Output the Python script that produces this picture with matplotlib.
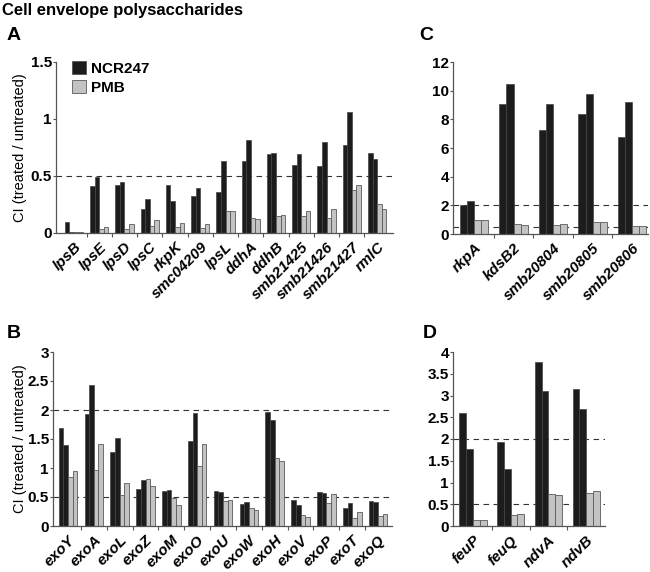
import numpy as np
import matplotlib
matplotlib.use("Agg")
import matplotlib.pyplot as plt

plt.rcParams['font.family'] = ['Liberation Sans', 'DejaVu Sans']

# panel A
genes_a = ["lpsB", "lpsE", "lpsD", "lpsC", "rkpK", "smc04209", "lpsL", "ddhA",
           "ddhB", "smb21425", "smb21426", "smb21427", "rmlC"]
ncr_a1 = [0.10, 0.415, 0.42, 0.21, 0.425, 0.325, 0.36, 0.63, 0.69, 0.60, 0.585, 0.77, 0.70]
ncr_a2 = [0.005, 0.495, 0.45, 0.295, 0.28, 0.395, 0.63, 0.815, 0.70, 0.695, 0.795, 1.06, 0.645]
pmb_a1 = [0.008, 0.035, 0.035, 0.065, 0.055, 0.045, 0.19, 0.13, 0.145, 0.145, 0.135, 0.38, 0.25]
pmb_a2 = [0.008, 0.055, 0.075, 0.11, 0.09, 0.08, 0.195, 0.125, 0.16, 0.19, 0.21, 0.425, 0.21]

# panel B
genes_b = ["exoY", "exoA", "exoL", "exoZ", "exoM", "exoO", "exoU", "exoW",
           "exoH", "exoV", "exoP", "exoT", "exoQ"]
ncr_b1 = [1.69, 1.93, 1.27, 0.64, 0.61, 1.46, 0.60, 0.385, 1.97, 0.44, 0.59, 0.31, 0.425]
ncr_b2 = [1.40, 2.43, 1.51, 0.80, 0.62, 1.94, 0.59, 0.42, 1.82, 0.36, 0.57, 0.39, 0.42]
pmb_b1 = [0.85, 0.97, 0.54, 0.81, 0.49, 1.04, 0.425, 0.315, 1.17, 0.185, 0.39, 0.14, 0.17]
pmb_b2 = [0.95, 1.41, 0.745, 0.69, 0.365, 1.41, 0.445, 0.275, 1.12, 0.16, 0.545, 0.24, 0.21]

# panel C
genes_c = ["rkpA", "kdsB2", "smb20804", "smb20805", "smb20806"]
ncr_c1 = [2.05, 9.1, 7.28, 8.4, 6.77]
ncr_c2 = [2.28, 10.5, 9.07, 9.77, 9.19]
pmb_c1 = [1.0, 0.70, 0.65, 0.84, 0.56]
pmb_c2 = [1.0, 0.65, 0.72, 0.84, 0.58]

# panel D
genes_d = ["feuP", "feuQ", "ndvA", "ndvB"]
ncr_d1 = [2.59, 1.92, 3.77, 3.14]
ncr_d2 = [1.78, 1.30, 3.11, 2.68]
pmb_d1 = [0.14, 0.25, 0.73, 0.77]
pmb_d2 = [0.14, 0.28, 0.72, 0.80]

BLACK = "#1c1c1c"
GRAY = "#c3c3c3"
W = 0.18

fig = plt.figure(figsize=(6.5, 5.72), dpi=100)


def px_axes(left, right, top, bottom):
    return fig.add_axes([left / 650, 1 - bottom / 572, (right - left) / 650, (bottom - top) / 572])


def panel(ax, genes, n1, n2, p1, p2, ylim, yticks, yticklabels, xlim, dashes):
    x = np.arange(len(genes))
    ax.bar(x - 1.5 * W, n1, W, color=BLACK, edgecolor="#444444", linewidth=0.5, label="NCR247")
    ax.bar(x - 0.5 * W, n2, W, color=BLACK, edgecolor="#444444", linewidth=0.5)
    ax.bar(x + 0.5 * W, p1, W, color=GRAY, edgecolor="#5a5a5a", linewidth=0.6, label="PMB")
    ax.bar(x + 1.5 * W, p2, W, color=GRAY, edgecolor="#5a5a5a", linewidth=0.6)
    for d in dashes:
        ax.axhline(d, color="#333333", linestyle=(0, (5, 4)), linewidth=0.8, zorder=0)
    ax.set_xlim(*xlim)
    ax.set_ylim(*ylim)
    ax.set_yticks(yticks)
    ax.set_yticklabels(yticklabels, fontsize=11, fontweight="bold")
    ax.set_xticks(x)
    ax.set_xticklabels(genes, rotation=45, ha="right", rotation_mode="anchor",
                       fontsize=11, style="italic", fontweight="bold")
    ax.set_xticks(x[:-1] + 0.5, minor=True)
    ax.tick_params(axis="x", which="major", length=0, pad=5)
    ax.tick_params(axis="x", which="minor", length=3, width=0.8, color="#555555")
    ax.tick_params(axis="y", length=2, width=0.8, color="#555555", pad=1)
    for s in ["top", "right"]:
        ax.spines[s].set_visible(False)
    for s in ["left", "bottom"]:
        ax.spines[s].set_color("#555555")
        ax.spines[s].set_linewidth(0.9)


ax_a = px_axes(56, 393, 62, 233)
panel(ax_a, genes_a, ncr_a1, ncr_a2, pmb_a1, pmb_a2, (0, 1.5), [0, 0.5, 1, 1.5],
      ["0", "0.5", "1", "1.5"], (-0.71, 12.63), [0.5])
ax_a.legend(loc="upper left", bbox_to_anchor=(0.03, 1.04), frameon=False,
            prop={"size": 11, "weight": "bold"}, handlelength=0.9, handleheight=0.9,
            handletextpad=0.3, labelspacing=0.3, borderaxespad=0)

ax_b = px_axes(53, 392, 352, 526)
panel(ax_b, genes_b, ncr_b1, ncr_b2, pmb_b1, pmb_b2, (0, 3), [0, 0.5, 1, 1.5, 2, 2.5, 3],
      ["0", "0.5", "1", "1.5", "2", "2.5", "3"], (-0.58, 12.54), [0.5, 2])

ax_c = px_axes(453, 648, 62, 234)
panel(ax_c, genes_c, ncr_c1, ncr_c2, pmb_c1, pmb_c2, (0, 12), [0, 2, 4, 6, 8, 10, 12],
      ["0", "2", "4", "6", "8", "10", "12"], (-0.53, 4.4), [2, 0.5])

ax_d = px_axes(453, 605, 352, 526)
panel(ax_d, genes_d, ncr_d1, ncr_d2, pmb_d1, pmb_d2, (0, 4), [0, 0.5, 1, 1.5, 2, 2.5, 3, 3.5, 4],
      ["0", "0.5", "1", "1.5", "2", "2.5", "3", "3.5", "4"], (-0.53, 3.5), [2, 0.5])

fig.text(2 / 650, 1 - 3 / 572, "Cell envelope polysaccharides", fontsize=12,
         fontweight="bold", va="top", ha="left")
fig.text(7 / 650, 1 - 27 / 572, "A", fontsize=14, fontweight="bold", va="top")
fig.text(7 / 650, 1 - 325 / 572, "B", fontsize=14, fontweight="bold", va="top")
fig.text(419 / 650, 1 - 27 / 572, "C", fontsize=14, fontweight="bold", va="top")
fig.text(423 / 650, 1 - 325 / 572, "D", fontsize=14, fontweight="bold", va="top")

for top, bottom in [(62, 233), (352, 526)]:
    fig.text(20 / 650, 1 - (top + bottom) / 2 / 572, "CI (treated / untreated)",
             rotation=90, fontsize=10.5, va="center", ha="center")

fig.savefig("out.png", dpi=100)
